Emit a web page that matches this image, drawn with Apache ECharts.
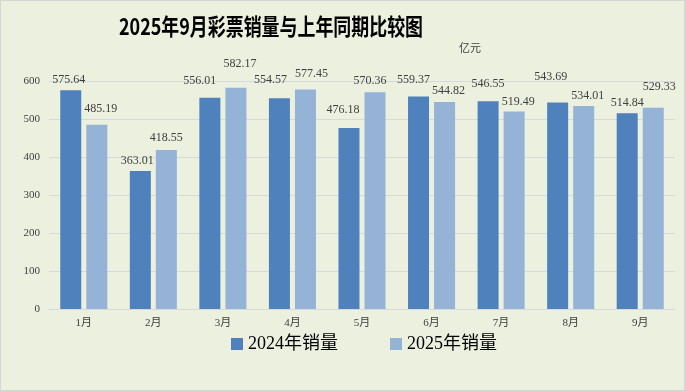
<!DOCTYPE html>
<html><head><meta charset="utf-8">
<script src="https://cdn.jsdelivr.net/npm/echarts@6/dist/echarts.min.js"></script>
<style>html,body{margin:0;padding:0;background:#fff}#c{width:685px;height:391px;box-sizing:border-box;border:1px solid #d6d6d6;background:#ebf0df}</style>
</head><body><div id="c"></div>
<script>
const categories = ['1月','2月','3月','4月','5月','6月','7月','8月','9月'];
const sales2024 = [575.64, 363.01, 556.01, 554.57, 476.18, 559.37, 546.55, 543.69, 514.84];
const sales2025 = [485.19, 418.55, 582.17, 577.45, 570.36, 544.82, 519.49, 534.01, 529.33];
const seriesNames = ['2024年销量', '2025年销量'];
const yTicks = {min: 0, max: 600, interval: 100};
// label nudges (pixels) reproducing the reference's label placement
const labelShift2024 = [[-2,0],[-3,0],[-10,-7],[-9,-8],[-6,-8],[-5,-7],[0,-7],[-7,-16],[0,-1]];
const labelShift2025 = [[4,-6],[0,-2],[4,-14],[6,-6],[-5,-1],[4,-1],[4,0],[4,0],[6,-11]];

const serif = '"Liberation Serif","DejaVu Serif","Noto Sans CJK SC",serif';
const chart = echarts.init(document.getElementById('c'));
const lbl = {show: true, position: 'top', distance: 4, fontFamily: serif, fontSize: 12, color: '#404040', formatter: p => p.value.toFixed(2)};
const build = (vals, shifts) => vals.map((v, i) => ({value: v, label: {offset: shifts[i]}}));
chart.setOption({
  animation: false,
  graphic: [{
    type: 'text', x: 270, y: 25, scaleX: 0.78, scaleY: 1, originX: 0, originY: 0,
    style: {text: '2025年9月彩票销量与上年同期比较图', fontFamily: '"Noto Sans CJK SC",sans-serif', fontWeight: 'bold', fontSize: 23, fill: '#000', align: 'center', verticalAlign: 'middle'}
  }],
  title: [{
    text: '亿元', left: 453, top: 36,
    textStyle: {fontFamily: '"Noto Sans CJK SC",sans-serif', fontWeight: 'normal', fontSize: 11, color: '#404040'}
  }],
  grid: {left: 48, right: 9, top: 80, bottom: 81},
  legend: {
    data: seriesNames, bottom: 32, left: 225, itemWidth: 12, itemHeight: 12, itemGap: 52,
    icon: 'rect',
    textStyle: {fontFamily: serif, fontSize: 18, color: '#000'}
  },
  xAxis: {
    type: 'category', data: categories,
    axisLine: {lineStyle: {color: '#d9d9d9'}}, axisTick: {show: false},
    axisLabel: {fontFamily: serif, fontSize: 11, color: '#404040', margin: 9}
  },
  yAxis: {
    type: 'value', min: yTicks.min, max: yTicks.max, interval: yTicks.interval,
    axisLine: {show: false}, axisTick: {show: false},
    splitLine: {lineStyle: {color: '#d9d9d9'}},
    axisLabel: {fontFamily: serif, fontSize: 11, color: '#404040', margin: 9}
  },
  series: [{
    name: seriesNames[0], type: 'bar', data: build(sales2024, labelShift2024), barWidth: 21, barGap: '24%',
    itemStyle: {color: '#4f81bd'}, label: lbl
  }, {
    name: seriesNames[1], type: 'bar', data: build(sales2025, labelShift2025), barWidth: 21,
    itemStyle: {color: '#95b3d7'}, label: lbl
  }]
});
</script></body></html>
